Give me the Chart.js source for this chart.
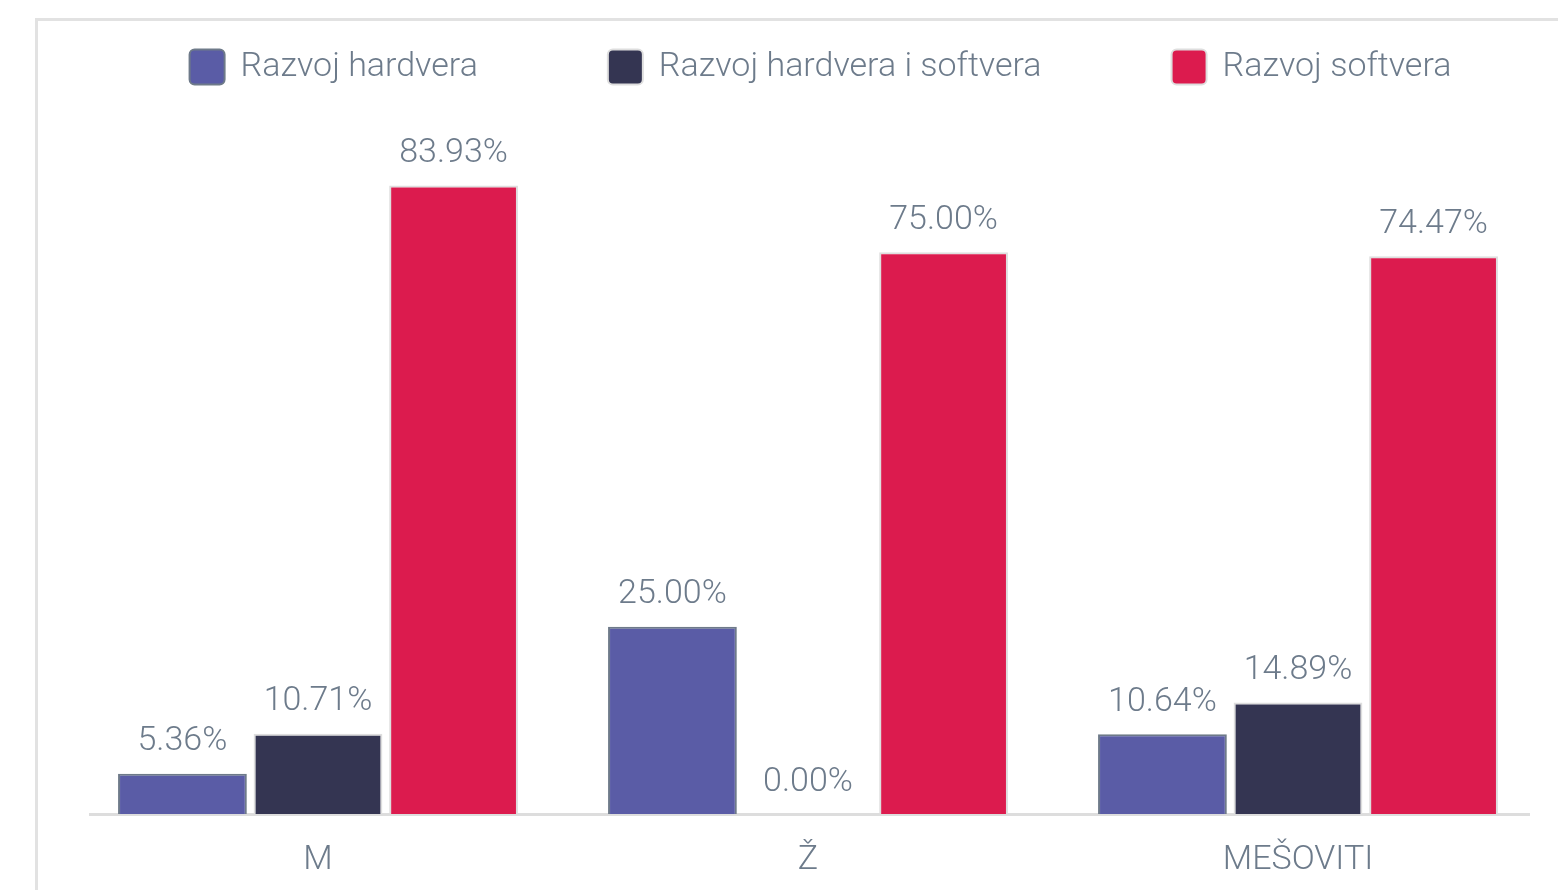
<!DOCTYPE html>
<html>
<head>
<meta charset="utf-8">
<script src="https://cdn.jsdelivr.net/npm/chart.js@4"></script>
<style>
  html, body { margin: 0; padding: 0; background: #fff; overflow: hidden; }
  #frame { position: absolute; left: 35px; top: 18px; width: 1700px; height: 1000px;
           border: 3px solid #e2e2e2; box-sizing: border-box; }
  #wrap { position: absolute; left: 0; top: 0; width: 1558px; height: 890px; }
</style>
</head>
<body>
<div id="frame"></div>
<div id="wrap"><canvas id="c" width="1558" height="890"></canvas></div>
<script>
const categories = ['M', 'Ž', 'MEŠOVITI'];
const seriesNames = ['Razvoj hardvera', 'Razvoj hardvera i softvera', 'Razvoj softvera'];
const hardver = [5.36, 25.00, 10.64];
const hardverSoftver = [10.71, 0.00, 14.89];
const softver = [83.93, 75.00, 74.47];

const TEXT = '#6d7b8b';
const FONT = 'Roboto';
const FS = 34;

const legendPlugin = {
  id: 'customLegend',
  afterDraw(chart) {
    const ctx = chart.ctx;
    const box = 37;
    const gap = 129;
    ctx.save();
    ctx.font = `300 ${FS}px ${FONT}`;
    const items = chart.data.datasets.map(ds => {
      const w = box + 15 + ctx.measureText(ds.label).width;
      return { ds, w };
    });
    const total = items.reduce((s, it) => s + it.w, 0) + gap * (items.length - 1);
    let x = 820 - total / 2;
    const cy = 67;
    items.forEach(({ ds, w }) => {
      ctx.beginPath();
      ctx.roundRect(x + 1, cy - box / 2 + 1, box - 2, box - 2, 5);
      ctx.fillStyle = ds.backgroundColor;
      ctx.fill();
      ctx.lineWidth = 2;
      ctx.strokeStyle = ds.borderColor;
      ctx.stroke();
      ctx.fillStyle = TEXT;
      ctx.textBaseline = 'middle';
      ctx.textAlign = 'left';
      ctx.fillText(ds.label, x + box + 15, cy);
      x += w + gap;
    });
    ctx.restore();
  }
};

const baselinePlugin = {
  id: 'baseline',
  beforeDatasetsDraw(chart) {
    const ctx = chart.ctx;
    const y = chart.scales.y.getPixelForValue(0);
    const a = chart.chartArea;
    ctx.save();
    ctx.strokeStyle = '#dddddd';
    ctx.lineWidth = 3;
    ctx.beginPath();
    ctx.moveTo(a.left + 16, y + 0.5);
    ctx.lineTo(a.right - 13, y + 0.5);
    ctx.stroke();
    ctx.restore();
  }
};

const valueLabels = {
  id: 'valueLabels',
  afterDatasetsDraw(chart) {
    const ctx = chart.ctx;
    ctx.save();
    ctx.font = `300 ${FS}px ${FONT}`;
    ctx.fillStyle = TEXT;
    ctx.textAlign = 'center';
    ctx.textBaseline = 'bottom';
    chart.data.datasets.forEach((ds, i) => {
      chart.getDatasetMeta(i).data.forEach((bar, j) => {
        ctx.fillText(ds.data[j].toFixed(2) + '%', bar.x, bar.y - 15);
      });
    });
    ctx.restore();
  }
};

new Chart(document.getElementById('c'), {
  type: 'bar',
  data: {
    labels: categories,
    datasets: [
      { label: seriesNames[0], data: hardver, backgroundColor: '#5a5ca6', borderColor: '#6e7a89', borderWidth: 2 },
      { label: seriesNames[1], data: hardverSoftver, backgroundColor: '#343552', borderColor: '#dedede', borderWidth: 2 },
      { label: seriesNames[2], data: softver, backgroundColor: '#dc1b4e', borderColor: '#dedede', borderWidth: 2 }
    ]
  },
  options: {
    responsive: false,
    animation: false,
    layout: { padding: { left: 73, right: 15, top: 140, bottom: 2 } },
    datasets: { bar: { categoryPercentage: 0.83, barPercentage: 0.95 } },
    plugins: { legend: { display: false }, tooltip: { enabled: false } },
    scales: {
      x: {
        grid: { display: false, drawTicks: false },
        border: { display: false },
        ticks: { color: TEXT, font: { family: FONT, size: FS, weight: 300 }, padding: 26 },
        afterFit(scale) { scale.height = 74; }
      },
      y: { display: false, min: 0, max: 90 }
    }
  },
  plugins: [legendPlugin, baselinePlugin, valueLabels]
});
</script>
</body>
</html>
